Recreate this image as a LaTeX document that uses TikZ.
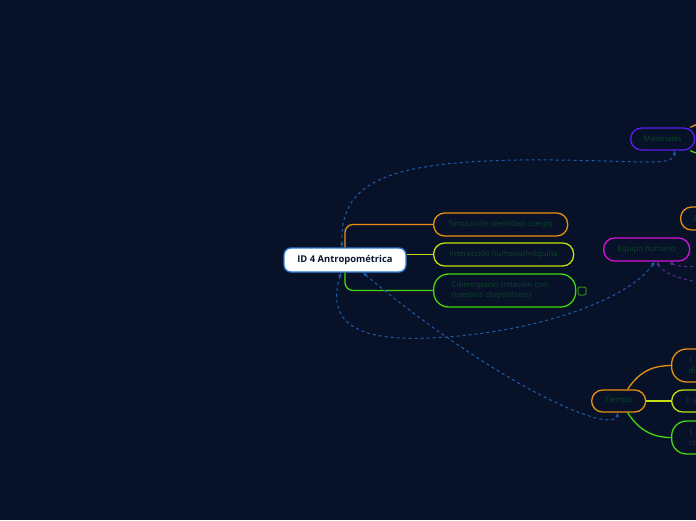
\documentclass[tikz,border=0pt]{standalone}
\usepackage{fontspec}
\setmainfont{Open Sans}
\usepackage{xcolor}
\usetikzlibrary{arrows.meta,positioning,shapes.misc}

\definecolor{fondo}{HTML}{071229}
\definecolor{azulborde}{HTML}{2E78D2}
\definecolor{textocentro}{HTML}{0B1733}
\definecolor{textoverde}{HTML}{0D452A}
\definecolor{naranja}{HTML}{E8900F}
\definecolor{amarillo}{HTML}{C4DE12}
\definecolor{verde}{HTML}{46D80C}
\definecolor{verdeosc}{HTML}{2F8A12}
\definecolor{morado}{HTML}{5A1CF2}
\definecolor{magenta}{HTML}{D412DA}
\definecolor{azulpunteado}{HTML}{1C5CAA}
\definecolor{moradopunteado}{HTML}{5A2C8C}

\begin{document}
\begin{tikzpicture}[
    x=1pt, y=-1pt,
    centro/.style={
        rectangle,
        draw=azulborde,
        fill=white,
        rounded corners=7pt,
        line width=1.3pt,
        inner sep=0pt,
        minimum width=122pt,
        minimum height=24pt,
        text=textocentro,
        font=\fontsize{9.4}{11}\selectfont\bfseries
    },
    rama/.style={
        rectangle,
        draw,
        fill=fondo,
        rounded corners=11pt,
        line width=1.3pt,
        inner sep=0pt,
        minimum height=23pt,
        align=left,
        anchor=west,
        text=textoverde,
        font=\fontsize{7.8}{10.5}\selectfont
    },
    ramaalta/.style={
        rama,
        rounded corners=15pt,
        minimum height=33pt
    },
    cuadro/.style={
        rectangle,
        draw=verdeosc,
        rounded corners=2pt,
        line width=1pt,
        inner sep=0pt,
        minimum size=8pt
    },
    linea/.style={
        line width=1.3pt
    },
    conexion/.style={
        {Latex[length=4pt,width=4pt]}-{Latex[length=4pt,width=4pt]},
        line width=1pt,
        dash pattern=on 3pt off 3pt,
        azulpunteado
    },
    conexionmorada/.style={
        {Latex[length=4pt,width=4pt]}-,
        line width=1pt,
        dash pattern=on 3pt off 3pt,
        moradopunteado
    }
]

% Fondo y recorte
\useasboundingbox (0,0) rectangle (696,520);
\fill[fondo] (0,0) rectangle (696,520);
\clip (0,0) rectangle (696,520);

% Nodo central y ramas
\node[centro] (id4) at (345,260) {ID 4 Antropométrica};
\node[rama, draw=naranja, minimum width=134pt] (simul) at (433,224.5) {Simulación identidad cuerpo};
\node[rama, draw=amarillo, minimum width=140pt] (inter) at (433,254.5) {Interacción humano/máquina};
\node[ramaalta, draw=verde, text width=106pt, inner xsep=18pt] (ciber) at (433,290.5) {Ciberespacio (relación con\\nuestros dispositivos)};
\node[cuadro] (plegar) at (582,291) {};

% Nodos de la derecha
\node[rama, draw=morado, minimum width=64pt, minimum height=22pt] (mat) at (630,139) {Materiales};
\node[rama, draw=naranja, minimum width=50pt, text width=30pt, inner xsep=13pt] (parcial) at (680,218.5) {E};
\node[rama, draw=magenta, minimum width=86pt] (equipo) at (603,249.5) {Equipo humano};
\node[rama, draw=naranja, minimum width=54pt, minimum height=22pt] (tiempo) at (591,401) {Tiempo};
\node[ramaalta, draw=naranja, text width=40pt, inner xsep=17pt] (t1) at (671,365.5) {1\\di};
\node[rama, draw=amarillo, text width=40pt, inner xsep=14pt, minimum height=22pt] (t2) at (671,401) {1 se};
\node[ramaalta, draw=verde, text width=40pt, inner xsep=17pt] (t3) at (671,437.5) {1\\co};

\coordinate (matA) at (700,123);
\coordinate (matB) at (700,154);
\coordinate (mor1) at (700,266);
\coordinate (mor2) at (700,282);

% Ramas del nodo central
\draw[linea, naranja, rounded corners=8pt] (id4.north) |- (simul.west);
\draw[linea, amarillo] (id4.east |- inter.west) -- (inter.west);
\draw[linea, verde, rounded corners=8pt] (id4.south) |- (ciber.west);

% Ramas de Materiales y Tiempo
\draw[linea, naranja] ([xshift=-5pt]mat.north east) .. controls (693,126) .. (matA);
\draw[linea, verde] ([xshift=-5pt]mat.south east) .. controls (693,152) .. (matB);
\draw[linea, naranja] ([xshift=9pt]tiempo.north) .. controls (640,370) and (655,365.5) .. (t1.west);
\draw[linea, amarillo] (tiempo.east) -- (t2.west);
\draw[linea, verde] ([xshift=9pt]tiempo.south) .. controls (640,432) and (655,437.5) .. (t3.west);

% Conexiones punteadas
\draw[conexion] ([xshift=-3pt]id4.north) .. controls (340,185) and (380,162) .. (520,160) .. controls (630,159) and (674,168) .. ([xshift=12pt]mat.south);
\draw[conexion] ([xshift=-4pt]id4.south) .. controls (322,335) and (380,340) .. (430,338) .. controls (540,333) and (630,298) .. ([xshift=8pt]equipo.south);
\draw[conexion] ([xshift=18pt]id4.south) .. controls (430,330) and (540,405) .. (600,419) .. controls (612,421) and (617,419) .. ([xshift=-1pt]tiempo.south);
\draw[conexionmorada] ([xshift=23pt]equipo.south) .. controls (675,266) and (685,267) .. (mor1);
\draw[conexionmorada] ([xshift=10pt]equipo.south) .. controls (662,272) and (680,280) .. (mor2);

\end{tikzpicture}
\end{document}
